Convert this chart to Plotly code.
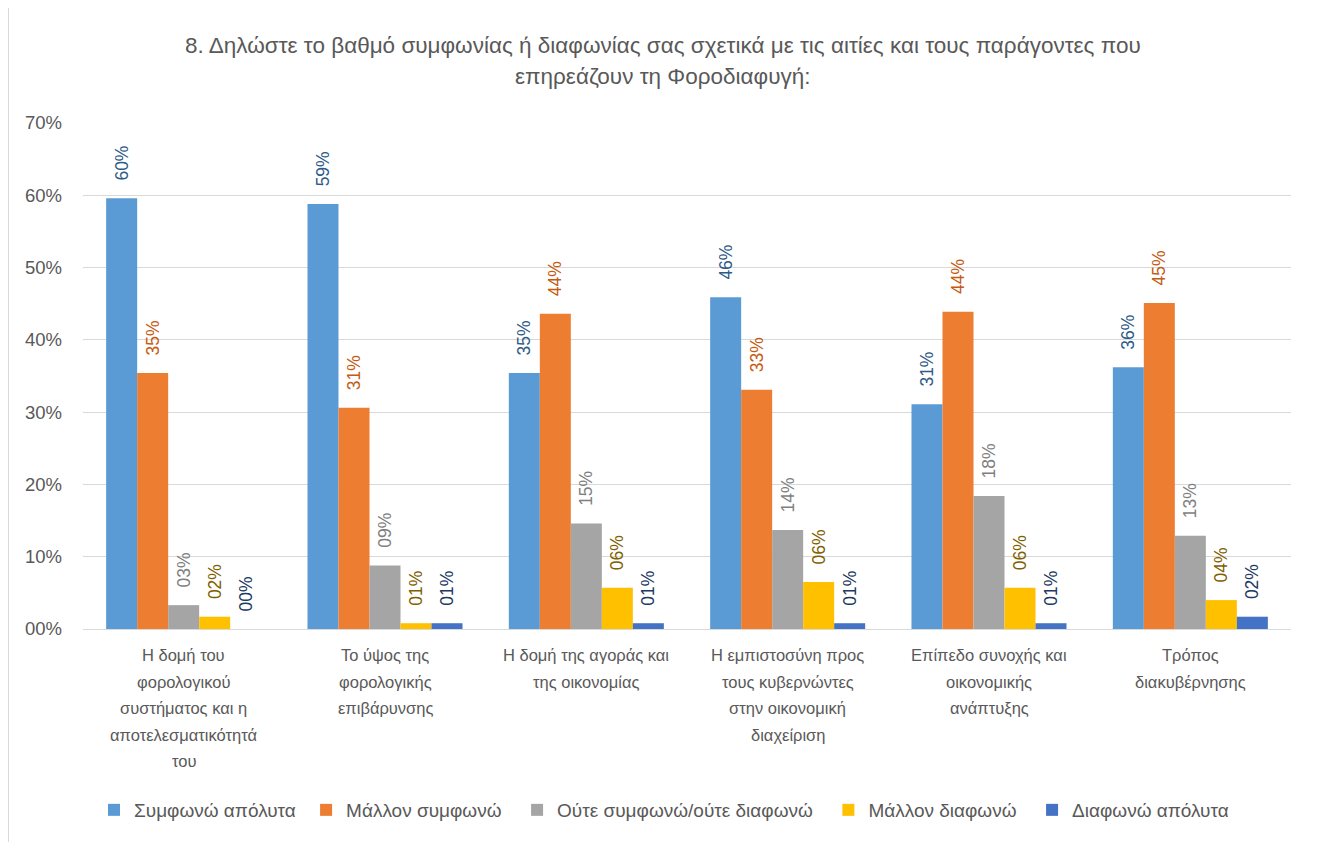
import plotly.graph_objects as go

categories = [
    "Η δομή του<br>φορολογικού<br>συστήματος και η<br>αποτελεσματικότητά<br>του",
    "Το ύψος της<br>φορολογικής<br>επιβάρυνσης",
    "Η δομή της αγοράς και<br>της οικονομίας",
    "Η εμπιστοσύνη προς<br>τους κυβερνώντες<br>στην οικονομική<br>διαχείριση",
    "Επίπεδο συνοχής και<br>οικονομικής<br>ανάπτυξης",
    "Τρόπος<br>διακυβέρνησης",
]
series_names = ["Συμφωνώ απόλυτα", "Μάλλον συμφωνώ", "Ούτε συμφωνώ/ούτε διαφωνώ",
                "Μάλλον διαφωνώ", "Διαφωνώ απόλυτα"]
agree_fully = [0.596, 0.588, 0.354, 0.459, 0.311, 0.362]
agree_rather = [0.354, 0.306, 0.436, 0.331, 0.439, 0.451]
neutral = [0.033, 0.088, 0.146, 0.137, 0.184, 0.129]
disagree_rather = [0.017, 0.008, 0.057, 0.065, 0.057, 0.040]
disagree_fully = [0.0, 0.008, 0.008, 0.008, 0.008, 0.017]
y_ticks = [0, 0.1, 0.2, 0.3, 0.4, 0.5, 0.6, 0.7]
y_tick_labels = ["00%", "10%", "20%", "30%", "40%", "50%", "60%", "70%"]
title_lines = ["8. Δηλώστε το βαθμό συμφωνίας ή διαφωνίας σας σχετικά με τις αιτίες και τους παράγοντες που",
               "επηρεάζουν τη Φοροδιαφυγή:"]

values = [agree_fully, agree_rather, neutral, disagree_rather, disagree_fully]
bar_colors = ["#5B9BD5", "#ED7D31", "#A5A5A5", "#FFC000", "#4472C4"]
label_colors = ["#2E5A88", "#C55A11", "#7F7F7F", "#7F6000", "#203864"]
legend_pad = [1, 2, 2, 2, 0]

FONT = "Liberation Sans, Arial, sans-serif"
GREY = "#595959"

W, H = 1319, 834
L, R, T, B = 75, 36, 115, 213
PW, PH = W - L - R, H - T - B

fig = go.Figure()
for name, vals, c, lc, pad in zip(series_names, values, bar_colors, label_colors, legend_pad):
    fig.add_trace(go.Bar(
        name=name + "\u00a0" * pad, x=categories, y=vals,
        marker=dict(color=c, line=dict(width=0)),
        text=["\u00a0\u00a0\u00a0" + f"{round(v*100):02d}%" for v in vals],
        textposition="outside", textangle=-90, constraintext="none",
        textfont=dict(color=lc, size=17.5, family=FONT),
        cliponaxis=False,
    ))

annotations = []
for i, line in enumerate(title_lines):
    annotations.append(dict(
        text=line, xref="paper", yref="paper", x=(663 - 8 - L) / PW, y=1 + (T - (45 + 31 * i - 8)) / PH,
        xanchor="center", yanchor="middle", showarrow=False,
        font=dict(size=22.5, color=GREY, family=FONT)))
for cat in categories:
    for j, part in enumerate(cat.split("<br>")):
        annotations.append(dict(
            text=part, xref="x", yref="paper", x=cat, y=0, yanchor="middle", xanchor="center",
            yshift=-(26 + 26.5 * j), showarrow=False,
            font=dict(size=16.5, color=GREY, family=FONT)))

fig.update_layout(
    width=W, height=H,
    paper_bgcolor="white", plot_bgcolor="white",
    barmode="group", bargap=0.23, bargroupgap=0,
    margin=dict(l=L, r=R, t=T, b=B),
    font=dict(family=FONT, color=GREY, size=17),
    yaxis=dict(range=[0, 0.7], tickvals=y_ticks, ticktext=y_tick_labels,
               showgrid=True, gridcolor="#D9D9D9", gridwidth=1.3, zeroline=False,
               showline=False, ticks="", tickfont=dict(size=18.5, color=GREY, family=FONT),
               ticklabelstandoff=20),
    xaxis=dict(showline=True, linecolor="#D9D9D9", linewidth=1.3, ticks="",
               showticklabels=False),
    legend=dict(orientation="h", x=(664 - 8 - L) / PW, xanchor="center",
                y=-(810 - 8 - (H - B)) / PH, yanchor="middle",
                font=dict(size=19, color=GREY, family=FONT), itemwidth=30, traceorder="normal"),
    annotations=annotations,
    shapes=[dict(type="rect", xref="paper", yref="paper",
                 x0=(0 - L) / PW, x1=(1312 - L) / PW, y0=-(845 - (H - B)) / PH, y1=1 + (T + 1) / PH,
                 line=dict(color="#D9D9D9", width=2), fillcolor="rgba(0,0,0,0)", layer="below")],
)
fig.write_html("out.html")
